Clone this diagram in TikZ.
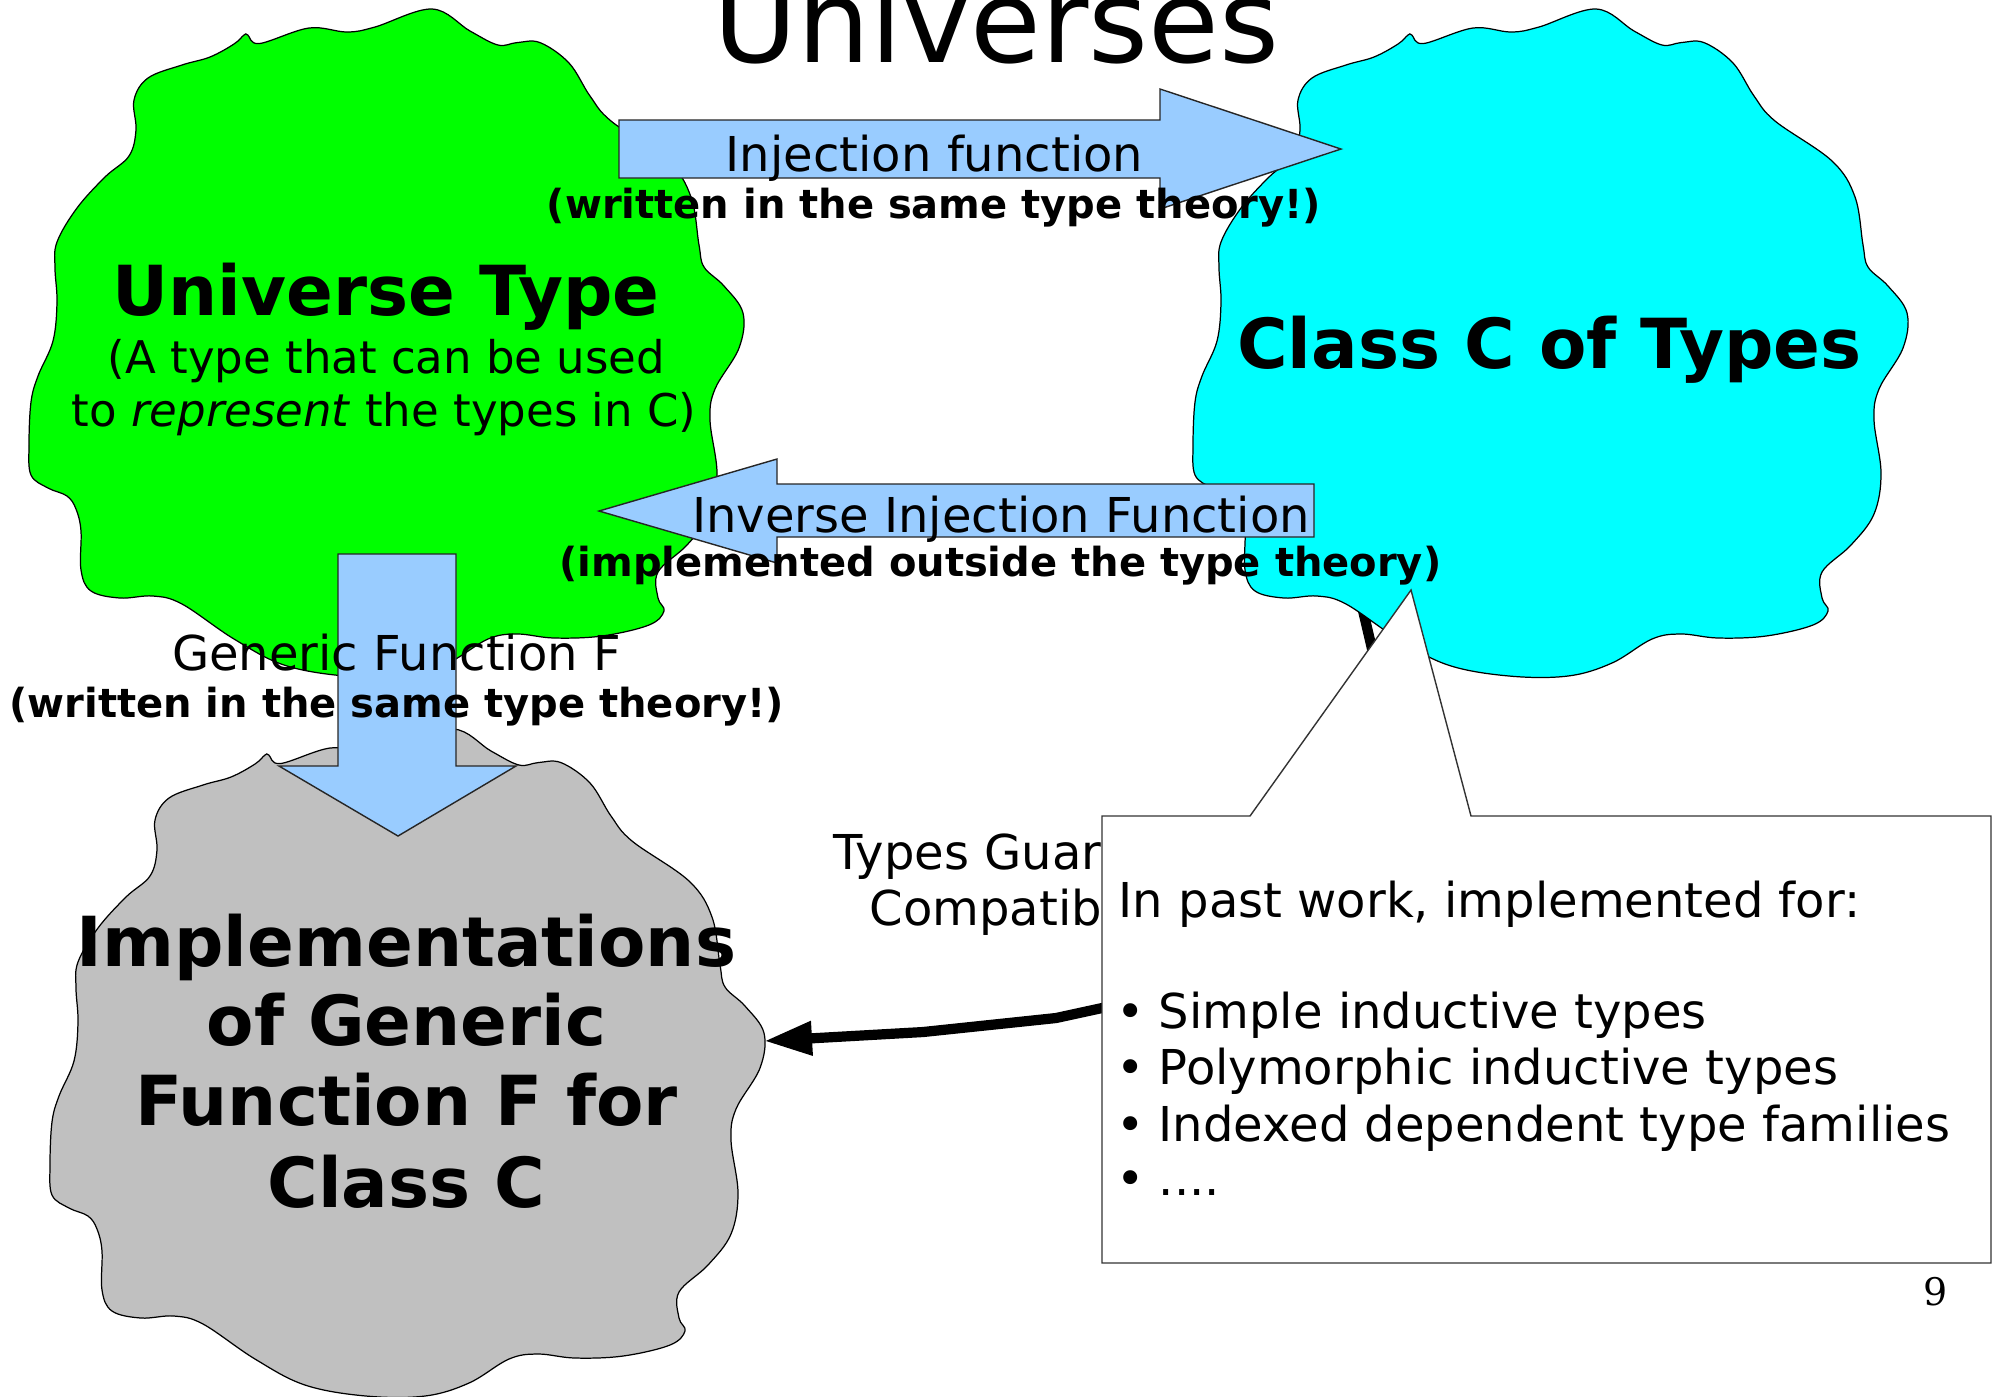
\documentclass[tikz,border=0pt]{standalone}
\usepackage{fontspec}
\setmainfont{DejaVu Sans}
\newfontfamily\pagenumfont{DejaVu Serif}
\usetikzlibrary{arrows.meta}

\definecolor{arrowblue}{HTML}{99CCFF}
\definecolor{blobgreen}{HTML}{00FF00}
\definecolor{blobcyan}{HTML}{00FFFF}
\definecolor{blobgray}{HTML}{C0C0C0}

% outline of the wavy blob, relative to its small notch at the upper left
\newcommand{\blobpath}{plot[smooth cycle, tension=0.6] coordinates {
(0,0) (3.8,0) (15.6,8.5) (65,-7) (103,-3) (131,-8) (188,-26) (226,-4)
(254,10) (273,7.6) (296,7.6) (325,28) (346,61) (367,86) (424,126) (447,162)
(455,210) (460,232) (480,251) (499,278) (495,313) (471,354) (466,385)
(473,438) (466,479) (443,510) (414,537) (414,563) (420,576) (405,590)
(358,601) (310,603) (273,599) (244,604) (204,628) (160,641) (101,641)
(40,630) (-10,604) (-62,569) (-91,561) (-124,563) (-153,556) (-163,535)
(-163,496) (-168,474) (-177,461) (-196,453) (-213,440) (-215,410)
(-213,367) (-206,341) (-191,306) (-187,267) (-189,233) (-187,207)
(-167,173) (-139,142) (-115,121) (-108,95) (-110,65) (-96,43) (-62,30)
(-34,22) (-10,9)}}

\tikzset{
  blob/.style={draw=black, line width=0.35pt},
  blockarrow/.style={draw=black!85, fill=arrowblue, line width=0.4pt, line join=miter},
  lbl/.style={inner sep=0pt, anchor=base, font=\fontsize{13.66pt}{16pt}\selectfont},
  note/.style={inner sep=0pt, anchor=base, font=\fontsize{11.38pt}{13pt}\selectfont\bfseries},
  big/.style={inner sep=0pt, anchor=base, font=\fontsize{19.63pt}{23pt}\selectfont\bfseries},
  sub/.style={inner sep=0pt, anchor=base, font=\fontsize{12.8pt}{15pt}\selectfont},
  callout/.style={draw=black!80, fill=white, line width=0.4pt, line join=miter},
  flow/.style={line width=2.9pt, line join=round,
    -{Triangle[length=0.48cm,width=0.32cm]}},
}

\begin{document}
\begin{tikzpicture}[x=0.01cm, y=-0.01cm]
\useasboundingbox (0,0) rectangle (1995,1396);
\clip (0,0) rectangle (1995,1396);

% connector from the class of types to the implementations
\coordinate (flowStart) at (1353,568);
\coordinate (flowEnd) at (764,1041);
\draw[flow] (flowStart) -- (1384,700) .. controls (1402,820) and (1300,975) .. (1102,1008)
  -- (1056,1018) -- (923,1032) -- (flowEnd);

% the three blobs
\path[blob, fill=blobgreen, shift={(244,35)}] \blobpath;
\path[blob, fill=blobcyan, shift={(1408,35)}] \blobpath;
\path[blob, fill=blobgray, shift={(265,755)}] \blobpath;

% block arrows
\draw[blockarrow] (619,120) -- (1160,120) -- (1160,89) -- (1341,149)
  -- (1160,209) -- (1160,178) -- (619,178) -- cycle;
\draw[blockarrow] (1314,484) -- (777,484) -- (777,459) -- (599,511)
  -- (777,563) -- (777,537) -- (1314,537) -- cycle;
\draw[blockarrow] (338,554) -- (456,554) -- (456,766) -- (516,766)
  -- (398,836) -- (279,766) -- (338,766) -- cycle;

% title
\node[inner sep=0pt, anchor=base, font=\fontsize{32.72pt}{38pt}\selectfont]
  (title) at (996,62) {Universes};

% blob texts
\node[big] (ut1) at (386,315) {Universe Type};
\node[sub] (ut2) at (386.5,373) {(A type that can be used};
\node[sub] (ut3) at (384,426) {to \textit{represent} the types in C)};
\node[big] (cc) at (1549.5,368) {Class C of Types};
\node[big] (im1) at (406.5,966) {Implementations};
\node[big] (im2) at (406.5,1045) {of Generic};
\node[big] (im3) at (406.5,1125) {Function F for};
\node[big] (im4) at (406.5,1207) {Class C};

% arrow labels
\node[lbl] (inj1) at (934.5,171) {Injection function};
\node[note] (inj2) at (934,218) {(written in the same type theory!)};
\node[lbl] (inv1) at (1001,532) {Inverse Injection Function};
\node[note] (inv2) at (1000.5,576) {(implemented outside the type theory)};
\node[lbl] (gen1) at (396.5,670) {Generic Function F};
\node[note] (gen2) at (396.7,717) {(written in the same type theory!)};

% label of the connector, partly behind the callout
\node[lbl, anchor=base west] (tg1) at (833,869) {Types Guar};
\node[lbl, anchor=base west] (tg2) at (869,925) {Compatib};

% callout
\coordinate (calloutTip) at (1411,590);
\draw[callout] (1102,816) -- (1250,816) -- (calloutTip) -- (1471,816)
  -- (1991,816) -- (1991,1263) -- (1102,1263) -- cycle;
\node[lbl, anchor=base west] (past) at (1118,917) {In past work, implemented for:};
\node[lbl, anchor=base west] (b1) at (1116,1028) {•};
\node[lbl, anchor=base west] (b2) at (1116,1084) {•};
\node[lbl, anchor=base west] (b3) at (1116,1141) {•};
\node[lbl, anchor=base west] (b4) at (1116,1195) {•};
\node[lbl, anchor=base west] (i1) at (1158,1028) {Simple inductive types};
\node[lbl, anchor=base west] (i2) at (1158,1084) {Polymorphic inductive types};
\node[lbl, anchor=base west] (i3) at (1158,1141) {Indexed dependent type families};
\node[lbl, anchor=base west] (i4) at (1158,1195) {....};

% page number
\node[inner sep=0pt, anchor=base west, font=\pagenumfont\fontsize{10.81pt}{13pt}\selectfont]
  (pagenum) at (1923,1305) {9};
\end{tikzpicture}
\end{document}
